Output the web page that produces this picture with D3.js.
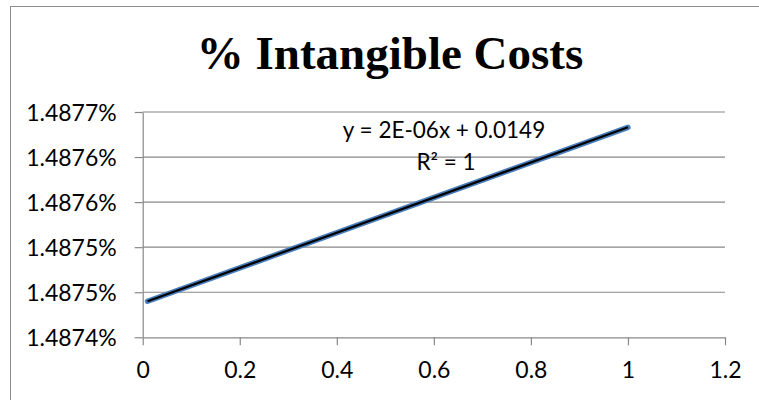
<!DOCTYPE html>
<html lang="en">
<head>
<meta charset="UTF-8">
<title>% Intangible Costs</title>
<script src="https://d3js.org/d3.v7.min.js"></script>
<style>
  body { margin: 0; background: #fff; }
  svg { display: block; }
</style>
</head>
<body>
<div id="chart"></div>
<script>
// data (y in percent)
const xValues = [0.01, 1];
const yValues = [1.48744, 1.487633];
const xTicks = [0, 0.2, 0.4, 0.6, 0.8, 1, 1.2];
const yTicks = [1.48740, 1.48745, 1.48750, 1.48755, 1.48760, 1.48765];
const yTickLabels = ["1.4874%", "1.4875%", "1.4875%", "1.4876%", "1.4876%", "1.4877%"];
const equationText = "y = 2E-06x + 0.0149";
const r2Text = "R² = 1";

const W = 759, H = 400;
const margin = { left: 142.7, right: 759 - 725, top: 112, bottom: 400 - 337.3 };

const svg = d3.select("#chart").append("svg").attr("width", W).attr("height", H);

// chart area border
svg.append("rect")
  .attr("x", 10.5).attr("y", 6.5).attr("width", W).attr("height", H)
  .attr("fill", "none").attr("stroke", "#8c8c8c").attr("stroke-width", 1);

const x = d3.scaleLinear().domain([0, 1.2]).range([margin.left, W - margin.right]);
const y = d3.scaleLinear().domain([1.48740, 1.48765]).range([H - margin.bottom, margin.top]);

const font = "Lato, 'Open Sans', sans-serif";

// gridlines
svg.append("g").selectAll("line").data(yTicks.slice(1)).join("line")
  .attr("x1", x(0)).attr("x2", x(1.2))
  .attr("y1", d => y(d)).attr("y2", d => y(d))
  .attr("stroke", "#888").attr("stroke-width", 1.2);

// y axis
const yAxis = svg.append("g").attr("transform", `translate(${x(0)},0)`)
  .call(d3.axisLeft(y).tickValues(yTicks).tickSize(8).tickSizeOuter(0)
    .tickFormat((d, i) => yTickLabels[i]));
yAxis.selectAll("path, line").attr("stroke", "#888").attr("stroke-width", 1.2);
yAxis.selectAll("text").attr("font-family", font).attr("font-size", 23)
  .attr("fill", "#000").attr("x", -26).attr("dy", "0.35em");

// x axis
const xAxis = svg.append("g").attr("transform", `translate(0,${y(1.48740)})`)
  .call(d3.axisBottom(x).tickValues(xTicks).tickSize(8).tickSizeOuter(0)
    .tickFormat(d => d3.format("")(d)));
xAxis.selectAll("path, line").attr("stroke", "#888").attr("stroke-width", 1.2);
xAxis.selectAll("text").attr("font-family", font).attr("font-size", 23)
  .attr("fill", "#000").attr("y", 24).attr("dy", "0.71em");

const pts = xValues.map((v, i) => [v, yValues[i]]);

// series line
svg.append("path").datum(pts)
  .attr("d", d3.line().x(d => x(d[0])).y(d => y(d[1])))
  .attr("fill", "none").attr("stroke", "#4a7ebb").attr("stroke-width", 5.5)
  .attr("stroke-linecap", "round");

// linear trendline (least squares)
const mx = d3.mean(xValues), my = d3.mean(yValues);
const slope = d3.sum(pts, d => (d[0] - mx) * (d[1] - my)) / d3.sum(pts, d => (d[0] - mx) ** 2);
const icpt = my - slope * mx;
const trend = [d3.min(xValues), d3.max(xValues)].map(v => [v, icpt + slope * v]);
svg.append("path").datum(trend)
  .attr("d", d3.line().x(d => x(d[0])).y(d => y(d[1])))
  .attr("fill", "none").attr("stroke", "#000").attr("stroke-width", 2.2);

// equation label
svg.append("text").attr("x", 444).attr("y", 138).attr("text-anchor", "middle")
  .attr("font-family", font).attr("font-size", 22.5).text(equationText);
svg.append("text").attr("x", 446).attr("y", 170).attr("text-anchor", "middle")
  .attr("font-family", font).attr("font-size", 22.5).text(r2Text);

// title
svg.append("text").attr("x", 390).attr("y", 69).attr("text-anchor", "middle")
  .attr("font-family", "'Liberation Serif', 'Times New Roman', serif")
  .attr("font-weight", "bold").attr("font-size", 47).text("% Intangible Costs");
</script>
</body>
</html>
